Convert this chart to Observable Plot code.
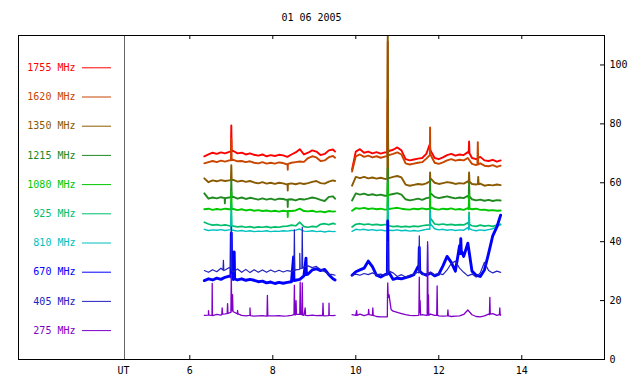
<!DOCTYPE html>
<html><head><meta charset="utf-8">
<script src="https://cdn.jsdelivr.net/npm/d3@7"></script>
<script src="https://cdn.jsdelivr.net/npm/@observablehq/plot@0.6"></script>
<style>body{margin:0;background:#fff}</style>
</head><body><div id="chart"></div>
<script>
const title = "01 06 2005";
const xLabel = "UT";
const freqLabels = ["1755 MHz","1620 MHz","1350 MHz","1215 MHz","1080 MHz","925 MHz","810 MHz","670 MHz","405 MHz","275 MHz"];
const colors = ["#ff0000","#c84600","#8a5a00","#208a20","#00c800","#00be6e","#00c0c0","#0000ff","#2222c0","#8000c8"];
const xTicks = [6, 8, 10, 12, 14];
const yTicks = [0, 20, 40, 60, 80, 100];

// sample times (UT hours)
const times1 = [6.35,6.45,6.55,6.65,6.75,6.85,6.95,7.05,7.15,7.25,7.35,7.45,7.55,7.65,7.75,7.85,7.95,8.05,8.15,8.25,8.35,8.45,8.55,8.65,8.75,8.85,8.95,9.05,9.15,9.25,9.35,9.45,9.5];
const times2 = [9.91,10.0,10.1,10.2,10.3,10.4,10.5,10.6,10.7,10.8,10.9,11.0,11.1,11.2,11.3,11.4,11.5,11.6,11.7,11.8,11.9,12.0,12.1,12.2,12.3,12.4,12.5,12.6,12.7,12.8,12.9,13.0,13.1,13.2,13.3,13.4,13.49];

// 1755 MHz
const f1755a = [69.0,69.6,70.2,69.8,70.3,70.0,70.5,70.8,70.0,70.2,69.6,70.0,69.5,69.2,69.6,69.0,69.4,69.1,69.5,69.3,68.8,69.6,70.3,71.4,69.6,70.2,71.0,70.6,69.4,69.8,71.0,71.3,70.6];
const f1755b = [64.5,70.6,71.4,70.2,70.6,70.0,70.4,69.9,70.3,70.8,71.2,72.0,71.0,68.0,67.6,67.9,68.2,68.4,69.8,71.0,68.4,68.0,68.6,69.4,69.8,69.2,69.6,69.4,70.4,68.4,68.0,68.8,67.6,67.4,67.8,67.2,67.6];
const f1755s = [[6.99,70.6],[7.0,79.5],[7.01,70.8],[10.76,70.4],[10.77,88],[10.78,70.8],[11.78,73.0],[12.72,70.2],[12.73,74.0],[12.74,70.0]];
// 1620 MHz
const f1620a = [66.6,67.0,67.4,67.0,67.5,67.2,67.6,67.8,67.3,67.4,67.0,67.3,66.8,66.6,67.0,66.5,66.8,66.5,66.9,66.7,66.2,66.8,67.0,67.2,67.1,68.4,69.0,68.6,67.4,67.6,68.7,69.1,68.5];
const f1620b = [63.8,69.0,69.6,68.8,69.2,68.6,69.0,68.5,68.9,69.4,69.8,70.3,69.6,66.6,66.2,66.5,66.8,67.0,68.2,69.6,66.8,66.4,66.9,67.6,68.0,67.5,67.8,67.6,68.4,66.4,66.0,66.6,65.8,65.6,66.0,65.4,65.8];
const f1620s = [[6.99,67.6],[7.0,75.0],[7.01,67.7],[8.355,66.3],[8.36,64.4],[8.365,66.4],[10.76,69.0],[10.77,108],[10.78,69.4],[11.785,69.4],[11.79,78.8],[11.795,69.6],[12.93,66.2],[12.94,73.8],[12.95,66.2]];
// 1350 MHz
const f1350a = [61.5,60.2,60.8,60.5,60.9,60.6,60.8,61.0,60.4,60.7,60.3,60.6,60.1,59.8,60.2,59.7,60.0,59.6,60.0,59.8,59.4,59.8,59.5,59.9,59.6,59.9,60.3,60.6,59.9,59.7,60.4,60.8,60.6];
const f1350b = [59.0,62.0,61.6,62.0,61.5,61.8,61.4,61.7,61.3,61.6,62.0,62.3,61.8,59.4,59.0,59.3,59.6,59.4,59.8,61.5,60.0,59.6,59.9,60.2,60.0,59.6,59.9,59.7,60.5,59.6,59.4,59.7,59.0,59.3,59.1,59.4,59.2];
const f1350s = [[6.99,60.8],[7.0,66.0],[7.01,60.9],[8.355,59.5],[8.36,57.4],[8.365,59.6],[10.76,61.4],[10.77,112],[10.78,61.6],[11.785,60.5],[11.79,63.5],[11.795,61.4],[12.72,60.0],[12.73,63.5],[12.74,60.4],[12.94,59.6],[12.95,62.0],[12.96,59.5]];
// 1215 MHz
const f1215a = [56.4,54.6,55.0,54.7,55.1,54.8,55.0,55.2,54.6,55.0,54.5,54.9,54.6,54.3,54.7,54.3,54.6,54.2,54.6,54.5,54.1,54.4,54.0,54.5,54.3,54.6,55.0,54.7,54.2,53.8,55.2,55.4,54.6];
const f1215b = [54.0,56.4,56.0,56.3,55.8,56.1,55.7,56.0,55.6,55.9,56.2,56.5,56.0,54.4,54.0,54.3,54.6,54.2,54.8,56.5,55.2,54.8,55.1,55.4,55.0,54.7,55.0,54.8,55.6,54.4,54.0,54.3,53.9,54.2,53.8,54.1,54.0];
const f1215s = [[6.84,54.8],[6.845,53.0],[6.85,54.8],[6.99,55.0],[7.0,61.0],[7.01,55.1],[8.355,54.2],[8.36,51.8],[8.365,54.3],[10.76,55.6],[10.77,65.0],[10.78,55.9],[11.785,55.0],[11.79,61.0],[11.795,56.2],[12.72,54.9],[12.73,60.0],[12.74,55.4]];
// 1080 MHz
const f1080a = [51.0,51.2,50.8,51.1,50.9,51.2,51.0,51.1,50.7,51.0,50.6,50.9,50.5,50.7,50.4,50.6,50.3,50.5,50.2,50.5,50.3,50.4,50.6,51.2,50.4,50.3,50.5,50.1,50.3,50.0,50.4,50.2,50.3];
const f1080b = [50.5,51.4,51.2,51.5,51.1,51.3,51.0,51.2,50.9,51.1,51.3,51.5,51.2,51.0,50.9,51.2,51.0,51.3,51.0,51.6,51.1,50.9,51.2,51.0,51.3,50.9,51.1,50.8,51.4,51.0,51.2,50.8,50.9,50.6,50.7,50.5,50.6];
const f1080s = [[6.99,51.0],[7.0,57.0],[7.01,51.1],[8.355,50.4],[8.36,48.4],[8.365,50.4],[10.76,50.9],[10.77,60.0],[10.78,51.1],[11.785,51.2],[11.79,57.0],[11.795,51.4],[12.72,51.0],[12.73,56.0],[12.74,51.2]];
// 925 MHz
const f925a = [46.6,46.0,45.6,45.8,45.5,45.7,45.4,45.3,45.0,45.2,44.9,45.1,44.8,45.0,44.9,45.1,44.8,45.0,44.9,45.2,45.3,45.6,45.4,46.6,45.1,44.9,45.2,45.0,45.9,46.1,45.8,46.2,46.0];
const f925b = [45.0,45.9,46.1,45.8,46.0,45.7,45.9,45.6,45.8,45.4,45.1,45.3,45.0,45.2,45.0,45.3,45.1,45.4,45.6,48.0,46.0,45.8,46.0,45.7,45.9,45.6,45.8,45.7,46.4,45.4,45.2,45.6,45.3,45.5,45.2,45.6,45.8];
const f925s = [[6.99,45.4],[7.0,53.0],[7.01,45.4],[10.76,45.8],[10.77,55.0],[10.78,45.5],[11.785,45.7],[11.79,51.0],[12.72,45.8],[12.73,50.0],[12.74,45.8]];
// 810 MHz
const f810a = [44.2,43.8,44.0,43.9,44.1,43.8,44.0,43.9,43.6,43.8,43.5,43.7,43.4,43.6,43.5,43.7,43.4,43.6,43.5,43.7,43.6,43.8,43.9,44.3,43.6,43.5,43.7,43.4,43.6,43.3,43.6,43.4,43.5];
const f810b = [43.5,44.2,44.0,44.2,43.9,44.1,43.8,44.0,43.7,43.9,43.8,44.0,43.7,43.9,43.6,43.8,43.6,43.9,44.2,46.0,44.4,44.0,44.2,43.9,44.1,43.8,44.0,43.9,44.8,44.0,43.7,44.0,43.8,44.1,44.4,45.0,46.0];
const f810s = [[6.99,44.0],[7.0,50.0],[7.01,43.9],[10.76,43.8],[10.77,52.0],[10.78,43.9],[11.785,44.2],[11.79,50.0],[12.72,44.0],[12.73,49.0],[12.74,44.4]];
// 670 MHz
const f670a = [26.8,27.4,27.0,27.6,27.2,27.9,28.3,27.2,27.0,27.4,26.9,27.2,26.9,26.4,26.6,26.0,26.3,25.8,26.2,25.9,26.2,26.4,26.9,27.2,28.4,29.0,30.4,30.8,30.2,30.6,28.8,27.4,27.0];
const f670b = [28.6,29.8,30.4,31.0,33.4,31.5,28.6,28.0,28.8,29.5,27.2,27.6,27.4,27.8,28.2,28.8,31.5,29.2,28.6,29.4,28.4,29.0,31.8,35.0,33.0,30.0,38.6,35.0,39.5,30.0,28.6,28.2,30.4,36.0,42.0,45.0,49.0];
const f670s = [[6.99,28.2],[7.0,43.0],[7.01,27.8],[7.07,36.5],[7.08,27.4],[8.5,34.8],[8.51,26.8],[8.8,34.4],[8.81,28.8],[10.76,29.0],[10.77,47.0],[10.78,29.2],[11.52,31.5],[11.53,38.0],[11.54,30.0],[12.52,36.0],[12.53,41.0],[12.54,37.0]];
// 405 MHz
const f405a = [30.2,29.6,30.5,29.8,31.0,30.4,31.2,29.8,30.7,29.6,30.6,29.5,30.5,29.6,30.4,29.6,30.4,29.7,30.3,29.7,30.2,29.9,30.4,30.9,31.4,31.8,31.2,31.6,30.6,29.8,29.0,28.8,28.6];
const f405b = [28.6,29.0,28.6,29.2,28.8,29.4,28.8,29.0,28.6,30.0,29.4,28.2,28.8,28.0,28.6,29.0,29.6,28.8,29.2,29.6,28.8,29.2,28.8,30.4,32.6,33.4,31.0,29.6,28.4,29.0,28.0,29.4,33.0,30.2,29.4,30.0,29.6];
const f405s = [[6.8,30.4],[6.81,33.7],[6.82,30.2],[6.99,31.0],[7.0,45.0],[7.01,30.0],[8.51,30.2],[8.52,44.0],[8.53,30.2],[8.64,30.6],[8.65,36.0],[8.66,30.8],[8.70,30.9],[8.71,44.9],[8.72,31.0],[10.76,28.8],[10.77,40.0],[10.78,29.6],[11.52,29.4],[11.53,42.0],[11.54,29.6],[11.72,29.2],[11.73,39.0],[11.74,29.3]];
// 275 MHz
const f275a = [15.0,15.2,14.9,15.3,15.1,15.5,15.8,16.2,15.4,15.0,14.8,15.0,14.7,14.8,14.9,14.7,14.8,14.8,14.9,14.7,14.8,15.0,15.2,15.3,15.0,14.9,15.1,14.9,15.0,14.8,15.1,14.9,15.0];
const f275b = [15.2,15.0,15.4,14.9,15.3,15.0,14.6,14.5,14.5,22.0,16.4,16.0,15.6,15.2,15.0,14.9,15.0,15.2,15.0,15.4,15.0,14.8,14.7,14.8,14.6,14.7,14.8,15.3,16.8,15.2,14.6,14.5,14.8,15.4,15.6,15.0,15.2];
const f275s = [[6.44,15.1],[6.45,16.6],[6.46,15.1],[6.535,15.0],[6.54,25.8],[6.545,15.0],[6.77,15.2],[6.78,17.5],[6.79,15.4],[6.9,15.6],[6.91,19.0],[6.92,15.7],[6.99,16.0],[7.0,29.0],[7.01,16.5],[7.03,22.0],[7.04,16.4],[7.14,15.6],[7.15,16.7],[7.16,15.5],[7.44,15.0],[7.45,17.5],[7.46,14.9],[7.86,14.7],[7.87,21.8],[7.88,14.8],[8.51,15.2],[8.52,25.2],[8.53,15.2],[8.56,20.0],[8.57,15.3],[8.64,15.3],[8.66,26.3],[8.67,15.3],[8.70,15.2],[8.71,26.0],[8.72,15.1],[8.78,17.5],[8.79,15.0],[9.2,14.9],[9.21,19.1],[9.22,14.9],[9.34,14.9],[9.355,19.1],[9.36,15.0],[10.02,16.6],[10.03,15.0],[10.31,17.0],[10.32,15.2],[10.41,17.5],[10.42,15.0],[10.76,14.5],[10.765,23.0],[10.77,26.0],[10.78,21.0],[10.85,17.0],[11.52,15.1],[11.53,28.0],[11.54,16.0],[11.55,20.0],[11.56,15.1],[11.72,15.0],[11.73,40.0],[11.74,15.2],[11.75,22.0],[11.76,15.0],[11.95,15.0],[11.96,25.0],[11.97,15.0],[12.21,14.8],[12.22,16.8],[12.23,14.8],[13.22,15.2],[13.23,21.1],[13.24,15.4],[13.46,15.2],[13.47,17.5],[13.48,15.0]];

const seriesA = [f1755a,f1620a,f1350a,f1215a,f1080a,f925a,f810a,f670a,f405a,f275a];
const seriesB = [f1755b,f1620b,f1350b,f1215b,f1080b,f925b,f810b,f670b,f405b,f275b];
const seriesS = [f1755s,f1620s,f1350s,f1215s,f1080s,f925s,f810s,f670s,f405s,f275s];
const widths = [1.9,1.9,1.9,1.9,1.9,1.7,1.4,2.9,1.2,1.3];

function buildRows(a, b, s) {
  const rows = [];
  times1.forEach((t, i) => rows.push({t, v: a[i]}));
  rows.push({t: (times1[times1.length-1] + times2[0]) / 2, v: NaN});
  times2.forEach((t, i) => rows.push({t, v: b[i]}));
  s.forEach(([t, v]) => rows.push({t, v}));
  return rows.sort((p, q) => p.t - q.t);
}

// layout (pixels)
const W = 640, H = 384, mT = 35, mB = 25, mL = 18, mR = 36;
const yMax = 110;
const innerH = H - mT - mB;
// legend rows: pixel offset from frame top, converted to y units
const legendRows = freqLabels.map((label, i) => ({label, color: colors[i],
  y: yMax - (32.3 + 29.2 * i) * yMax / innerH}));

const marks = [];
marks.push(Plot.frame({insetLeft: 106, stroke: "#666"}));
seriesA.forEach((a, k) => {
  marks.push(Plot.line(buildRows(a, seriesB[k], seriesS[k]), {
    x: "t", y: "v", stroke: colors[k], strokeWidth: widths[k], clip: true
  }));
});
marks.push(
  Plot.text(legendRows, {y: "y", text: "label", fill: "color", frameAnchor: "left", dx: 57, textAnchor: "end"}),
  Plot.ruleY(legendRows, {y: "y", stroke: "color", insetLeft: 64, insetRight: 493, strokeWidth: 1}),
  Plot.tickX(xTicks, {x: d => d, insetTop: innerH - 4, stroke: "black"}),
  Plot.tickX(xTicks, {x: d => d, insetBottom: innerH - 4, stroke: "black"}),
  Plot.tickY(yTicks, {y: d => d, insetLeft: W - mL - mR - 4, stroke: "black"}),
  Plot.axisX({anchor: "bottom", ticks: xTicks, tickSize: 0, tickPadding: 7, label: null}),
  Plot.axisY({anchor: "right", ticks: yTicks, tickSize: 0, tickPadding: 5, label: null}),
  Plot.text([xLabel], {frameAnchor: "bottom-left", dx: 105, dy: 7, lineAnchor: "top", textAnchor: "middle"}),
  Plot.text([title], {frameAnchor: "top", dy: -18, lineAnchor: "middle"}),
  Plot.frame({stroke: "black"})
);

const chart = Plot.plot({
  width: W, height: H,
  marginTop: mT, marginBottom: mB, marginLeft: mL, marginRight: mR,
  x: {domain: [1.872, 15.993]},
  y: {domain: [0, yMax]},
  style: {fontFamily: "'DejaVu Sans Mono', monospace", fontSize: "10px", background: "white", color: "black"},
  marks
});
document.getElementById("chart").appendChild(chart);
</script>
</body></html>
